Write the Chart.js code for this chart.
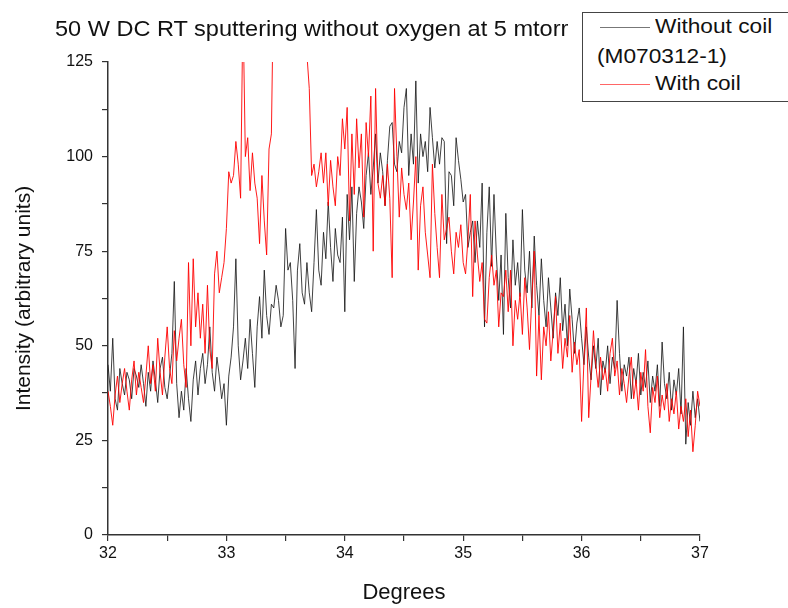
<!DOCTYPE html>
<html><head><meta charset="utf-8">
<script src="https://cdn.jsdelivr.net/npm/chart.js@4/dist/chart.umd.min.js"></script>
<style>
html,body{margin:0;padding:0;background:#fff;}
#wrap{position:relative;width:788px;height:608px;overflow:hidden;font-family:"Liberation Sans",Arial,sans-serif;color:#111;}
#c{position:absolute;left:0;top:0;}
#title{position:absolute;left:55px;top:16px;font-size:22px;white-space:nowrap;transform-origin:0 0;transform:scaleX(1.07);}
#legend{position:absolute;left:582px;top:12px;width:230px;height:90px;border:1.5px solid #444;box-sizing:border-box;background:#fff;}
.lt{position:absolute;font-size:21px;white-space:nowrap;transform-origin:0 0;transform:scaleX(1.08);}
.ls{position:absolute;height:0;width:50px;}
</style>
</head><body>
<div id="wrap">
<canvas id="c" width="788" height="608"></canvas>
<div id="title">50 W DC RT sputtering without oxygen at 5 mtorr</div>
<div id="legend">
  <div class="ls" style="left:17px;top:14px;border-top:1.5px solid #777;"></div>
  <div class="lt" style="left:72px;top:1px;">Without coil</div>
  <div class="lt" style="left:14px;top:31px;">(M070312-1)</div>
  <div class="ls" style="left:17px;top:71px;border-top:1px solid #f66;"></div>
  <div class="lt" style="left:72px;top:58px;">With coil</div>
</div>
</div>
<script>
const degStart = 32, degStep = 0.02;
const seriesNames = ["Without coil (M070312-1)", "With coil"];
const xTickLabels = [32, 33, 34, 35, 36, 37];
const yTickLabels = [0, 25, 50, 75, 100, 125];
const withoutCoil = [
 45,38,52,36,33,44,40,37,43,41,
 36,44,42,39,45,40,34,43,38,46,
 41,35,44,47,39,36,42,48,67,40,
 31,38,33,44,36,30,41,46,37,44,
 48,40,45,55,43,38,47,42,36,40,
 29,42,47,55,73,50,41,46,52,44,
 57,48,39,55,63,52,70,58,53,61,
 60,66,62,55,58,81,70,72,62,44,
 70,77,64,61,72,64,59,72,86,70,
 66,80,73,88,76,67,81,74,72,84,
 59,90,78,92,67,85,92,88,81,95,
 101,90,97,106,93,101,96,87,99,108,
 109,98,96,104,101,113,118,95,106,98,
 120,93,106,100,104,96,113,105,97,104,
 98,105,104,77,96,95,87,105,99,94,
 88,90,76,80,83,72,83,76,93,55,
 80,92,71,90,74,62,74,53,85,68,
 60,78,66,72,63,86,70,64,75,60,
 79,66,58,73,62,55,68,60,52,64,
 58,68,54,61,50,65,57,48,56,60,
 52,45,55,47,41,50,44,52,37,46,
 43,50,40,47,44,62,48,38,45,42,
 47,36,44,40,48,37,43,39,46,35,
 42,38,45,34,51,40,36,43,33,41,
 37,44,32,55,24,35,29,38,31,36,
 30
];
const withCoil = [
 38,34,29,37,42,35,40,44,38,33,
 41,46,37,43,39,35,42,50,40,45,
 38,52,43,37,47,55,44,40,54,46,
 52,57,45,39,72,50,73,55,64,52,
 61,48,66,49,44,69,75,64,68,72,
 81,96,93,95,104,98,89,140,100,105,
 91,101,93,89,77,95,83,74,102,106,
 150,165,180,190,200,205,210,200,190,175,
 160,150,140,132,127,118,95,98,92,96,
 101,93,101,87,99,92,87,100,95,110,
 102,113,83,106,90,110,97,106,84,109,
 100,116,75,118,93,89,95,87,98,89,
 68,118,100,84,97,90,86,93,78,88,
 100,70,87,92,80,74,68,98,85,76,
 68,90,78,81,84,75,69,80,76,82,
 72,69,78,90,63,83,74,67,72,57,
 56,68,74,66,70,55,64,63,70,59,
 70,50,62,57,64,53,68,60,49,63,
 75,42,58,41,55,50,59,46,54,63,
 48,56,44,52,47,58,43,51,45,49,
 30,46,60,31,42,54,45,39,47,41,
 44,38,48,52,42,46,37,44,40,35,
 42,47,36,41,33,43,38,49,34,27,
 39,35,42,31,37,33,40,30,36,32,
 38,28,34,30,36,26,33,22,29,38,
 34
];
const toPts = arr => arr.map((v, i) => ({x: +(degStart + i * degStep).toFixed(2), y: v}));
const tickFont = {family: '"Liberation Sans", Arial, sans-serif', size: 16};
const titleFont = {family: '"Liberation Sans", Arial, sans-serif', size: 21};
new Chart(document.getElementById('c'), {
  type: 'line',
  data: {
    datasets: [
      {label: seriesNames[1], data: toPts(withCoil), borderColor: '#ff0000', borderWidth: 0.9, pointRadius: 0, tension: 0, order: 1},
      {label: seriesNames[0], data: toPts(withoutCoil), borderColor: 'rgba(20,20,20,0.9)', borderWidth: 0.9, pointRadius: 0, tension: 0, order: 2}
    ]
  },
  options: {
    responsive: false, animation: false, events: [],
    layout: {padding: {top: 62, right: 88, left: 0, bottom: 0}},
    plugins: {legend: {display: false}, title: {display: false}, tooltip: {enabled: false}},
    scales: {
      x: {
        type: 'linear', min: xTickLabels[0], max: xTickLabels[xTickLabels.length - 1],
        afterFit: s => { s.height = 73; },
        ticks: {stepSize: 0.5, autoSkip: false, maxRotation: 0, padding: 3, color: '#111', font: tickFont,
          callback: v => xTickLabels.includes(v) ? String(v) : ''},
        grid: {drawOnChartArea: false, drawTicks: true, tickLength: 6, color: '#333', lineWidth: 1.2},
        border: {color: '#333', width: 1.5},
        title: {display: true, text: 'Degrees', color: '#111', font: {family: titleFont.family, size: 22}, padding: {top: 4, bottom: 2}}
      },
      y: {
        min: yTickLabels[0], max: yTickLabels[yTickLabels.length - 1],
        afterFit: s => { s.width = 108; },
        ticks: {stepSize: 12.5, autoSkip: false, padding: 9, color: '#111', font: tickFont,
          callback: v => yTickLabels.includes(v) ? String(v) : ''},
        grid: {drawOnChartArea: false, drawTicks: true, tickLength: 6, color: '#333', lineWidth: 1.2},
        border: {color: '#333', width: 1.5},
        title: {display: true, text: 'Intensity (arbitrary units)', color: '#111', font: titleFont, padding: {top: 12, bottom: 4}}
      }
    }
  }
});
</script>
</body></html>
